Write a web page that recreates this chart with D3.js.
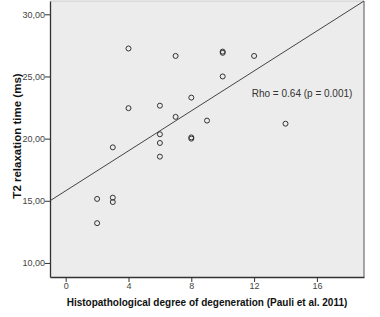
<!DOCTYPE html>
<html>
<head>
<meta charset="utf-8">
<script src="https://cdn.jsdelivr.net/npm/d3@7"></script>
<style>
  body { margin: 0; background: #fff; }
  #chart { width: 380px; height: 317px; }
  text { font-family: "Liberation Sans", Arial, sans-serif; }
</style>
</head>
<body>
<div id="chart"></div>
<script>
// degree of degeneration (Pauli et al. 2011)
const degree = [2, 2, 3, 3, 3, 4, 4, 6, 6, 6, 6, 7, 7, 8, 8, 8, 9, 10, 10, 10, 12, 14];
// T2 relaxation time (ms)
const t2 = [13.2, 15.15, 15.25, 14.9, 19.3, 27.25, 22.45, 22.65, 20.35, 19.65, 18.55,
            26.65, 21.75, 23.3, 20.1, 20.0, 21.45, 26.9, 27.0, 25.0, 26.65, 21.2];
const xTicks = [0, 4, 8, 12, 16];
const yTicks = [10, 15, 20, 25, 30];
// fit line end points (x, y)
const fitX = [-1, 19];
const fitY = [15.0, 31.07];
const rhoLabel = "Rho = 0.64 (p = 0.001)";

const margin = {top: 1, right: 16, bottom: 40, left: 50};
const width = 380 - margin.left - margin.right;
const height = 317 - margin.top - margin.bottom;

const svg = d3.select("#chart").append("svg")
    .attr("width", 380)
    .attr("height", 317);

const g = svg.append("g")
    .attr("transform", `translate(${margin.left},${margin.top})`);

const x = d3.scaleLinear().domain([-1, 19]).range([0, width]);
const y = d3.scaleLinear().domain([8.87, 31.07]).range([height, 0]);

// plot background + frame
g.append("rect")
    .attr("width", width)
    .attr("height", height)
    .attr("fill", "#ececec")
    .attr("stroke", "none");
g.append("line")
    .attr("x1", 0).attr("x2", width).attr("y1", 0).attr("y2", 0)
    .attr("stroke", "#c8c8c8");
g.append("line")
    .attr("x1", width).attr("x2", width).attr("y1", 0).attr("y2", height)
    .attr("stroke", "#8a8a8a").attr("stroke-width", 1.5);

// axes
const xAxis = d3.axisBottom(x).tickValues(xTicks).tickSize(5).tickSizeOuter(0)
    .tickFormat(d3.format("d"));
const yAxis = d3.axisLeft(y).tickValues(yTicks).tickSize(5).tickSizeOuter(0)
    .tickFormat(d => d3.format(".2f")(d).replace(".", ","));

const gx = g.append("g")
    .attr("transform", `translate(0,${height})`)
    .call(xAxis);
const gy = g.append("g").call(yAxis);

[gx, gy].forEach(a => {
    a.select(".domain").attr("stroke", "#333").attr("stroke-width", 1.3);
    a.selectAll(".tick line").attr("stroke", "#333");
    a.selectAll(".tick text").attr("fill", "#444").style("font-size", "9px");
});
gy.selectAll(".tick text").attr("x", -5);
gx.selectAll(".tick text").attr("y", 6);

// fit line
g.append("line")
    .attr("x1", x(fitX[0])).attr("y1", y(fitY[0]))
    .attr("x2", x(fitX[1])).attr("y2", y(fitY[1]))
    .attr("stroke", "#444")
    .attr("stroke-width", 1);

// points
g.selectAll("circle.pt")
    .data(degree.map((d, i) => ({x: d, y: t2[i]})))
    .enter().append("circle")
    .attr("class", "pt")
    .attr("cx", d => x(d.x))
    .attr("cy", d => y(d.y))
    .attr("r", 2.5)
    .attr("fill", "none")
    .attr("stroke", "#333")
    .attr("stroke-width", 1);

// correlation label
g.append("text")
    .attr("x", x(11.85))
    .attr("y", 96)
    .attr("fill", "#333")
    .style("font-size", "10px")
    .text(rhoLabel);

// axis titles
svg.append("text")
    .attr("transform", `translate(21,136) rotate(-90)`)
    .attr("text-anchor", "middle")
    .attr("fill", "#111")
    .style("font-size", "11.5px")
    .style("font-weight", "bold")
    .text("T2 relaxation time (ms)");

svg.append("text")
    .attr("x", 207)
    .attr("y", 306)
    .attr("text-anchor", "middle")
    .attr("fill", "#111")
    .style("font-size", "10px")
    .style("font-weight", "bold")
    .text("Histopathological degree of degeneration (Pauli et al. 2011)");
</script>
</body>
</html>
